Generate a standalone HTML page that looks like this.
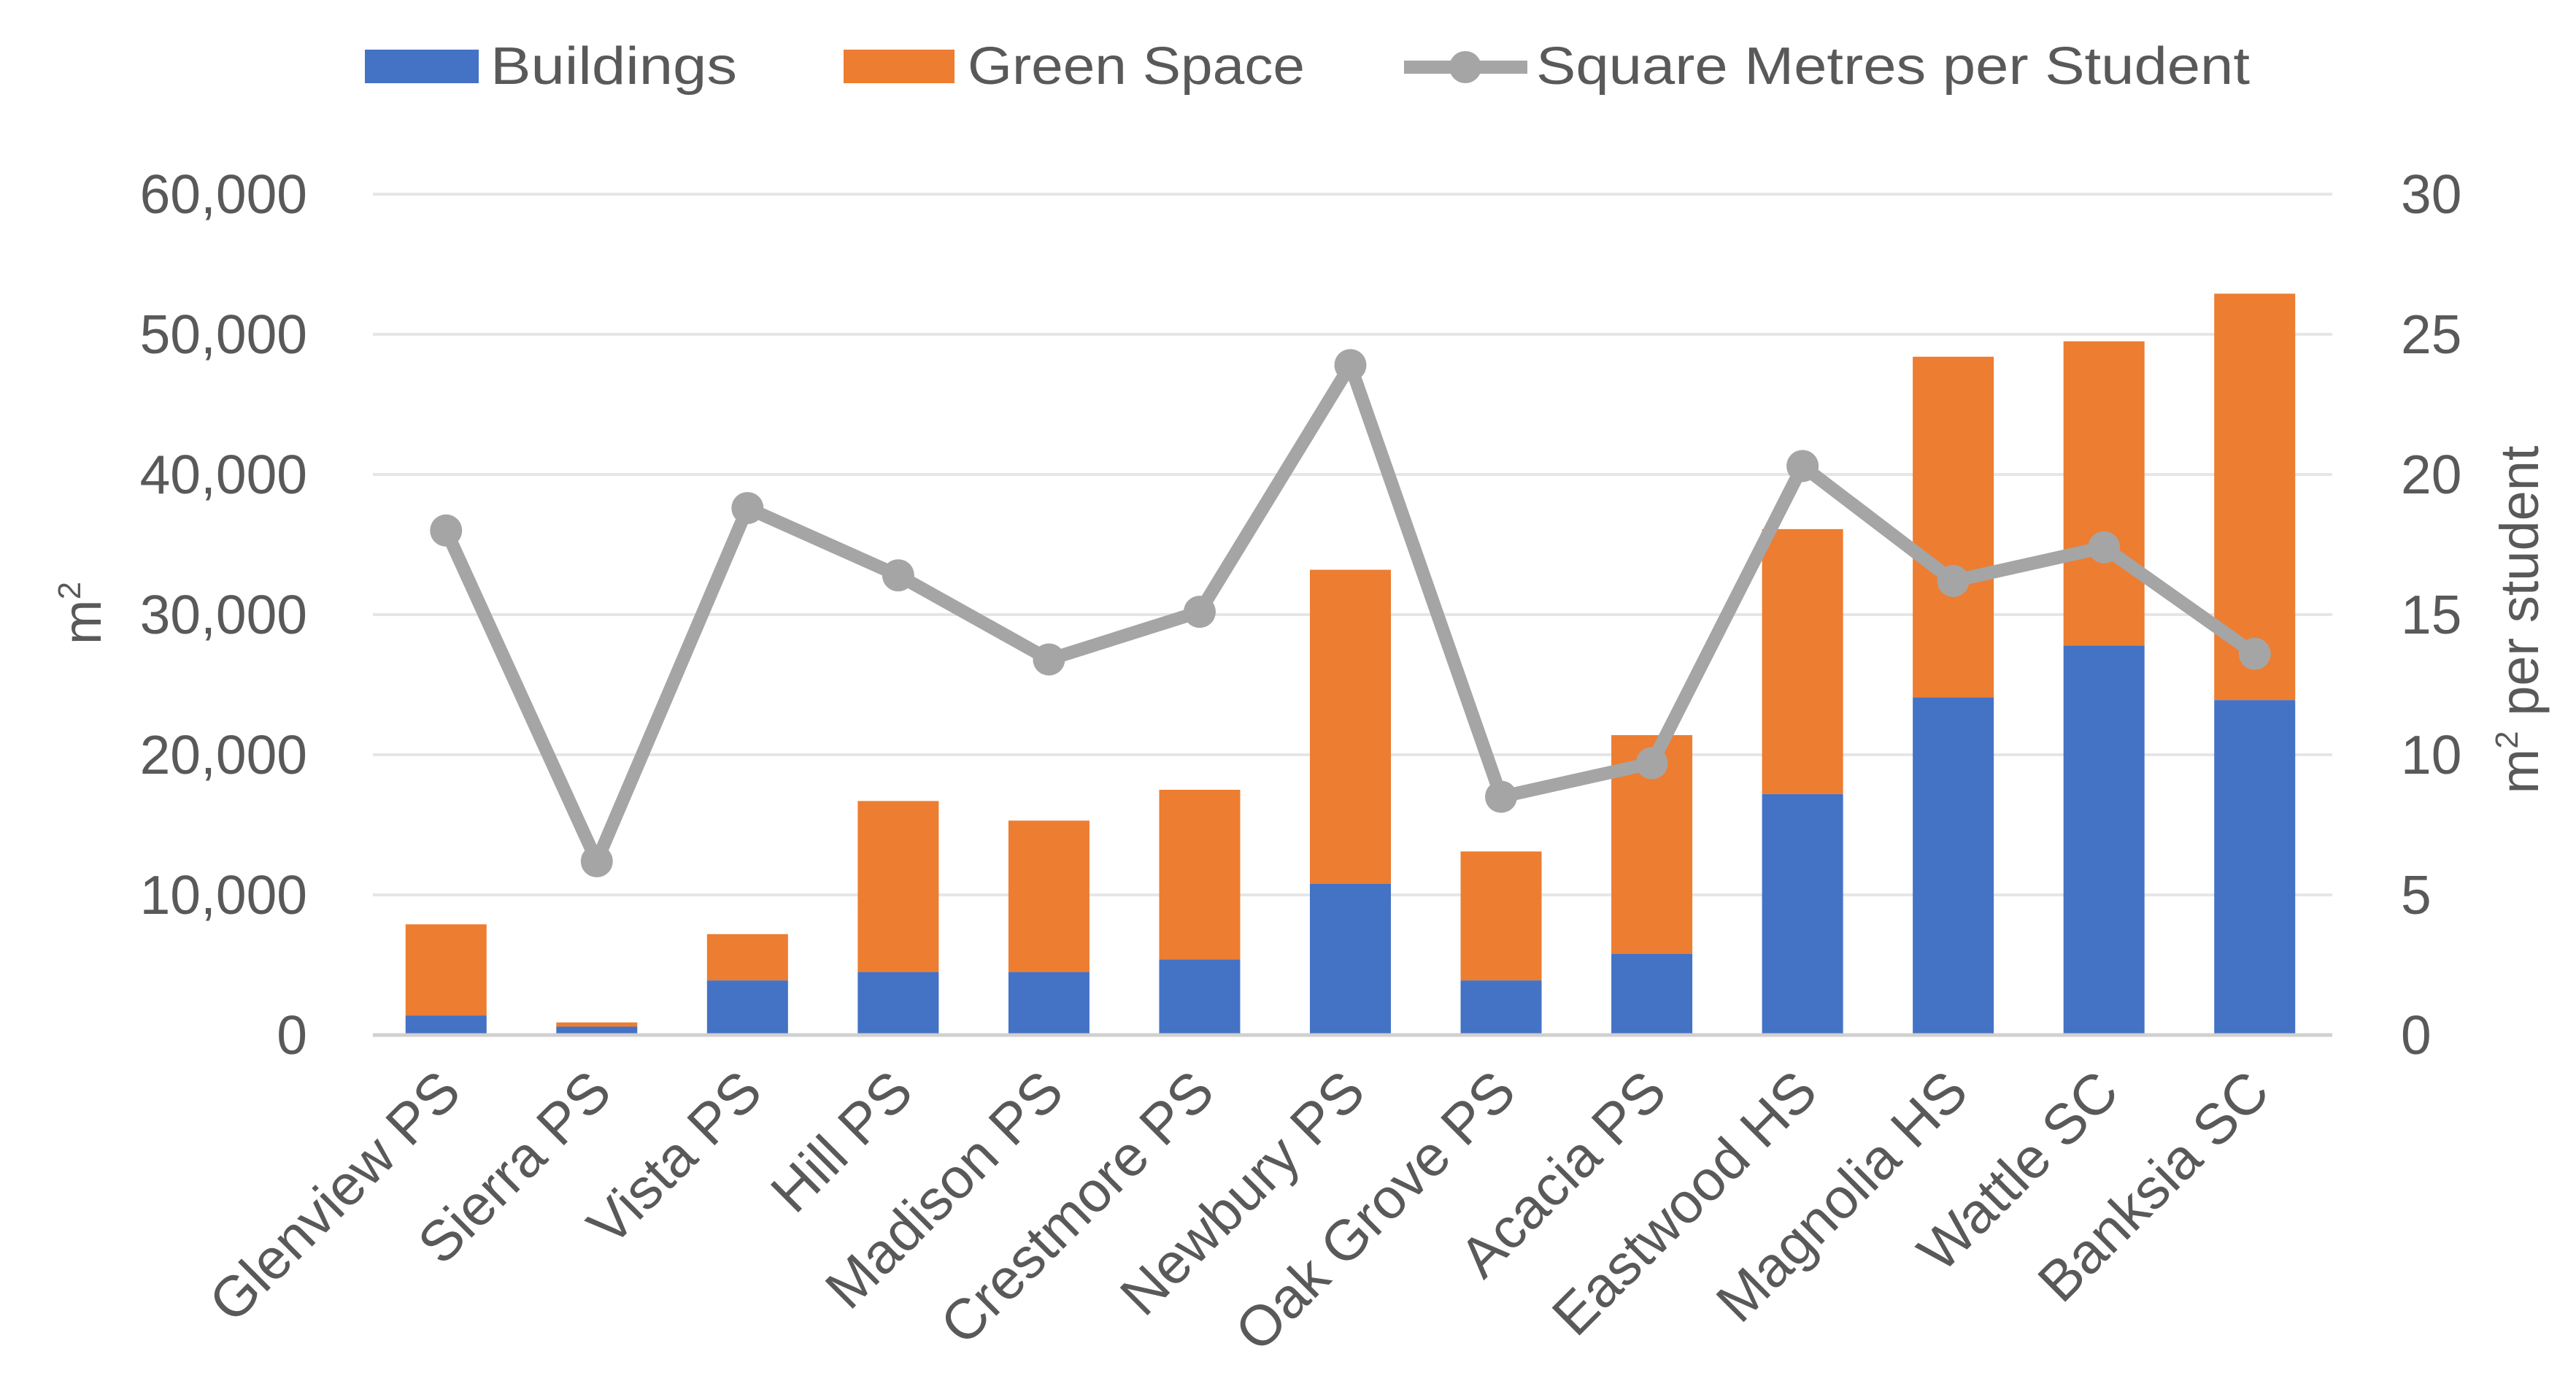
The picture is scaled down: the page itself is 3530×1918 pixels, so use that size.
<!DOCTYPE html>
<html><head><meta charset="utf-8"><style>
html,body{margin:0;padding:0;background:#fff;}
svg{display:block;font-family:"Liberation Sans",sans-serif;}
</style></head><body>
<svg id="chart" width="3530" height="1918" viewBox="0 0 3530 1918" xmlns="http://www.w3.org/2000/svg">
<g id="legend">
  <rect x="500" y="68" width="156" height="46" fill="#4472c4"/>
  <text x="672" y="115" font-size="72" fill="#595959" textLength="338" lengthAdjust="spacingAndGlyphs">Buildings</text>
  <rect x="1156" y="68" width="152" height="46" fill="#ed7d31"/>
  <text x="1326" y="115" font-size="72" fill="#595959" textLength="462" lengthAdjust="spacingAndGlyphs">Green Space</text>
  <line x1="1924" y1="92" x2="2093" y2="92" stroke="#a5a5a5" stroke-width="18"/>
  <circle cx="2008" cy="92" r="22" fill="#a5a5a5"/>
  <text x="2105" y="115" font-size="72" fill="#595959" textLength="978" lengthAdjust="spacingAndGlyphs">Square Metres per Student</text>
</g>
<g id="grid"></g>
<g id="bars"></g>
<g id="line"></g>
<g id="axes"></g>
<text transform="translate(138,840) rotate(-90)" text-anchor="middle" font-size="74" fill="#595959">m<tspan font-size="44" dy="-28">2</tspan></text>
<text transform="translate(3478,849) rotate(-90)" text-anchor="middle" font-size="74" fill="#595959">m<tspan font-size="44" dy="-28">2</tspan><tspan dy="28"> per student</tspan></text>
</svg>
<script>
const categories = ["Glenview PS","Sierra PS","Vista PS","Hill PS","Madison PS","Crestmore PS","Newbury PS","Oak Grove PS","Acacia PS","Eastwood HS","Magnolia HS","Wattle SC","Banksia SC"];
const buildings = [1400,600,3900,4500,4500,5400,10800,3900,5800,17200,24100,27800,23900];
const greenSpace = [6500,300,3300,12200,10800,12100,22400,9200,15600,18900,24300,21700,29000];
const perStudent = [18.0,6.2,18.8,16.4,13.4,15.1,23.9,8.5,9.7,20.3,16.2,17.4,13.6];
const leftTicks = [0,10000,20000,30000,40000,50000,60000];
const rightTicks = [0,5,10,15,20,25,30];

const NS = "http://www.w3.org/2000/svg";
const X0 = 511, X1 = 3196, Y0 = 1418, YT = 266;
const yL = v => Y0 - (v / 60000) * (Y0 - YT);
const yR = v => Y0 - (v / 30) * (Y0 - YT);
const band = (X1 - X0) / categories.length;
const xC = i => X0 + band * (i + 0.5);
const barW = 111;
function mk(tag, attrs, parent) { const e = document.createElementNS(NS, tag); for (const k in attrs) e.setAttribute(k, attrs[k]); parent.appendChild(e); return e; }
const grid = document.getElementById('grid'), bars = document.getElementById('bars'), line = document.getElementById('line'), axes = document.getElementById('axes');

leftTicks.forEach((t, i) => {
  if (t !== 0) {
    const g = mk('line', {x1: X0, x2: X1, y1: yL(t), y2: yL(t), stroke: '#e6e6e6', 'stroke-width': 4}, grid);
    
    
  }
  const tx = mk('text', {x: 421, y: yL(t) + 26, 'text-anchor': 'end', 'font-size': 75, fill: '#595959'}, axes);
  tx.textContent = t.toLocaleString('en-US');
  
  
});
rightTicks.forEach(t => {
  const tx = mk('text', {x: 3290, y: yR(t) + 26, 'text-anchor': 'start', 'font-size': 75, fill: '#595959'}, axes);
  tx.textContent = String(t);
  
  
});

categories.forEach((c, i) => {
  const cx = xC(i) - 3;
  const b = mk('rect', {x: cx - barW / 2, y: yL(buildings[i]), width: barW, height: Y0 - yL(buildings[i]), fill: '#4472c4'}, bars);
  
  
  const top = buildings[i] + greenSpace[i];
  const g = mk('rect', {x: cx - barW / 2, y: yL(top), width: barW, height: yL(buildings[i]) - yL(top), fill: '#ed7d31'}, bars);
  
  
  const lb = mk('text', {transform: `translate(${cx + 24},${Y0 + 82}) rotate(-45)`, 'text-anchor': 'end', 'font-size': 78, fill: '#595959'}, axes);
  lb.textContent = c;
  
  
});

const axisLine = mk('line', {x1: X0, x2: X1, y1: Y0, y2: Y0, stroke: '#d0d0d0', 'stroke-width': 5}, axes);



const pts = perStudent.map((v, i) => `${xC(i) - 3},${yR(v)}`).join(' ');
const pl = mk('polyline', {points: pts, fill: 'none', stroke: '#a5a5a5', 'stroke-width': 18, 'stroke-linejoin': 'round'}, line);


perStudent.forEach((v, i) => {
  const m = mk('circle', {cx: xC(i) - 3, cy: yR(v), r: 22, fill: '#a5a5a5'}, line);
  
  
});
</script>
</body></html>
